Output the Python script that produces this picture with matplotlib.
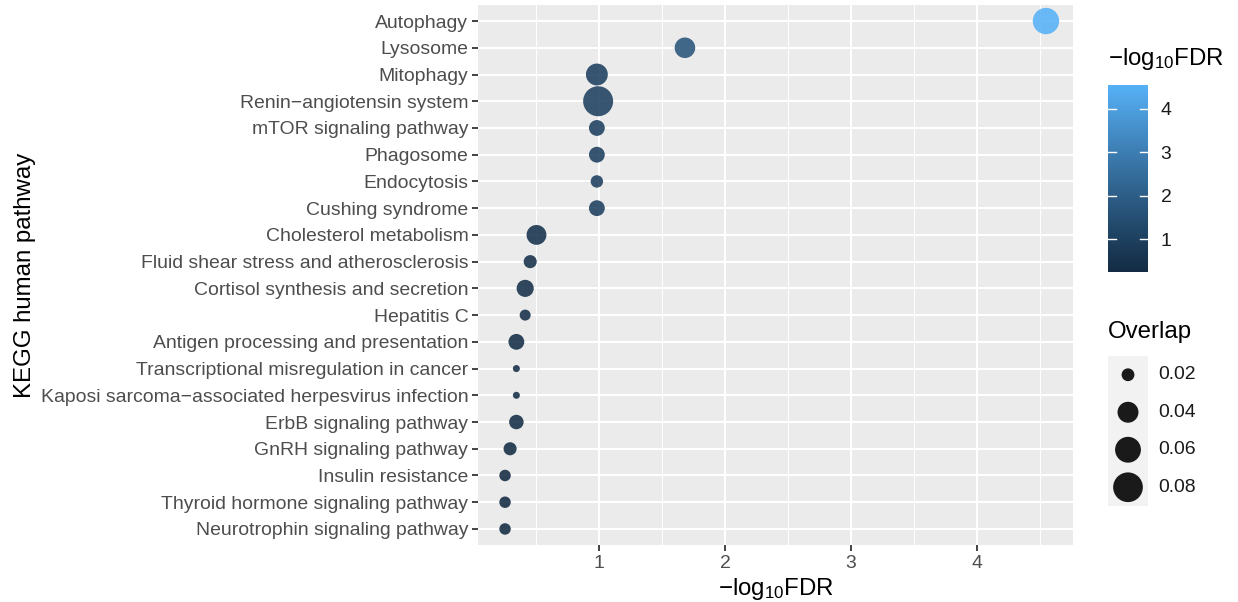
import numpy as np
import matplotlib
matplotlib.use("Agg")
import matplotlib.pyplot as plt
from matplotlib.colors import ListedColormap, Normalize

# ---------------- data ----------------
pathways = [
    "Autophagy", "Lysosome", "Mitophagy", "Renin\u2212angiotensin system",
    "mTOR signaling pathway", "Phagosome", "Endocytosis", "Cushing syndrome",
    "Cholesterol metabolism", "Fluid shear stress and atherosclerosis",
    "Cortisol synthesis and secretion", "Hepatitis C",
    "Antigen processing and presentation",
    "Transcriptional misregulation in cancer",
    "Kaposi sarcoma\u2212associated herpesvirus infection",
    "ErbB signaling pathway", "GnRH signaling pathway", "Insulin resistance",
    "Thyroid hormone signaling pathway", "Neurotrophin signaling pathway",
]
neg_log10_fdr = [4.55, 1.68, 0.98, 0.99, 0.98, 0.98, 0.98, 0.98, 0.50, 0.45,
                 0.41, 0.41, 0.34, 0.34, 0.34, 0.34, 0.29, 0.25, 0.25, 0.25]
overlap = [0.0625, 0.0387, 0.0434, 0.0817, 0.0255, 0.0255, 0.0195, 0.0255,
           0.0364, 0.0204, 0.0286, 0.0178, 0.0255, 0.0158, 0.0158, 0.0228,
           0.0204, 0.0183, 0.0183, 0.0183]
x_ticks = [1, 2, 3, 4]
cbar_ticks = [1, 2, 3, 4]
size_breaks = [0.02, 0.04, 0.06, 0.08]

# ---------------- style helpers ----------------
FONT = ["Liberation Sans", "DejaVu Sans"]
plt.rcParams["font.family"] = FONT
plt.rcParams["mathtext.fontset"] = "custom"
plt.rcParams["mathtext.rm"] = "Liberation Sans"
plt.rcParams["mathtext.default"] = "regular"

DPI = 100
W, H = 1238, 602
TICK_FS = 13.92
TITLE_FS = 17.3


def hex_to_rgb(h):
    h = h.lstrip("#")
    return np.array([int(h[i:i + 2], 16) / 255 for i in (0, 2, 4)])


def rgb_to_lab(rgb):
    c = np.where(rgb > 0.04045, ((rgb + 0.055) / 1.055) ** 2.4, rgb / 12.92)
    M = np.array([[0.4124, 0.3576, 0.1805],
                  [0.2126, 0.7152, 0.0722],
                  [0.0193, 0.1192, 0.9505]])
    xyz = M @ c / np.array([0.95047, 1.0, 1.08883])
    f = np.where(xyz > 0.008856, np.cbrt(xyz), 7.787 * xyz + 16 / 116)
    return np.array([116 * f[1] - 16, 500 * (f[0] - f[1]), 200 * (f[1] - f[2])])


def lab_to_rgb(lab):
    L, a, b = lab
    fy = (L + 16) / 116
    fx = fy + a / 500
    fz = fy - b / 200
    f = np.array([fx, fy, fz])
    xyz = np.where(f ** 3 > 0.008856, f ** 3, (f - 16 / 116) / 7.787)
    xyz = xyz * np.array([0.95047, 1.0, 1.08883])
    Minv = np.array([[3.2406, -1.5372, -0.4986],
                     [-0.9689, 1.8758, 0.0415],
                     [0.0557, -0.2040, 1.0570]])
    c = Minv @ xyz
    c = np.where(c > 0.0031308, 1.055 * np.clip(c, 0, None) ** (1 / 2.4) - 0.055, 12.92 * c)
    return np.clip(c, 0, 1)


lo, hi = rgb_to_lab(hex_to_rgb("#132B43")), rgb_to_lab(hex_to_rgb("#56B1F7"))
cmap = ListedColormap([lab_to_rgb(lo + (hi - lo) * t) for t in np.linspace(0, 1, 256)])
norm = Normalize(vmin=min(neg_log10_fdr), vmax=max(neg_log10_fdr))

ov_min, ov_max = min(overlap), max(overlap)


def size_scale(v):
    """area-style size scale: diameter in px -> marker area in pt^2"""
    t = np.clip((np.asarray(v) - ov_min) / (ov_max - ov_min), 0, None)
    d_px = 7.0 + 23.0 * np.sqrt(t)
    d_pt = d_px * 72 / DPI
    return d_pt ** 2


# ---------------- figure ----------------
fig = plt.figure(figsize=(W / DPI, H / DPI), dpi=DPI)
fig.patch.set_facecolor("white")

pl, pr, pt_, pb = 478, 1073, 5, 545
ax = fig.add_axes([pl / W, 1 - pb / H, (pr - pl) / W, (pb - pt_) / H])
ax.set_facecolor("#EBEBEB")
for s in ax.spines.values():
    s.set_visible(False)

n = len(pathways)
ypos = np.arange(n)
ax.set_ylim(n - 1 + 0.6, -0.6)
xr = max(neg_log10_fdr) - min(neg_log10_fdr)
ax.set_xlim(min(neg_log10_fdr) - 0.05 * xr, max(neg_log10_fdr) + 0.05 * xr)

# grid
for xm in np.arange(0.5, 5.0, 1.0):
    ax.axvline(xm, color="white", lw=0.7, zorder=0)
for xv in x_ticks:
    ax.axvline(xv, color="white", lw=1.45, zorder=0)
for yv in ypos:
    ax.axhline(yv, color="white", lw=1.45, zorder=0)

ax.scatter(neg_log10_fdr, ypos, s=size_scale(overlap), c=neg_log10_fdr,
           cmap=cmap, norm=norm, linewidths=0, alpha=0.88, zorder=3)

ax.set_xticks(x_ticks)
ax.set_xticklabels([str(v) for v in x_ticks])
ax.set_yticks(ypos)
ax.set_yticklabels(pathways)
ax.tick_params(axis="both", length=4, width=1.3, color="#333333",
               labelcolor="#4D4D4D", labelsize=TICK_FS, pad=3)

ax.set_xlabel("\u2212log$_{10}$FDR", fontsize=TITLE_FS, color="black")
ax.set_ylabel("KEGG human pathway", fontsize=TITLE_FS, color="black")
ax.xaxis.set_label_coords(0.5, -(576 - pb) / (pb - pt_))
ax.yaxis.set_label_coords((36 - pl) / (pr - pl), 0.5)

# ---------------- colour bar legend ----------------
cx0, cx1, cy0, cy1 = 1108, 1148, 85, 272
cax = fig.add_axes([cx0 / W, 1 - cy1 / H, (cx1 - cx0) / W, (cy1 - cy0) / H])
cb = fig.colorbar(plt.cm.ScalarMappable(norm=norm, cmap=cmap), cax=cax)
cb.outline.set_visible(False)
cb.set_ticks(cbar_ticks)
cb.set_ticklabels([str(v) for v in cbar_ticks])
cax.tick_params(length=0, labelsize=TICK_FS, labelcolor="#1A1A1A", pad=9)
for tv in cbar_ticks:
    cax.plot([0, 0.2], [tv, tv], color="white", lw=1, transform=cax.get_yaxis_transform())
    cax.plot([0.8, 1.0], [tv, tv], color="white", lw=1, transform=cax.get_yaxis_transform())
fig.text(cx0 / W, 1 - 59 / H, "\u2212log$_{10}$FDR", fontsize=TITLE_FS, color="black",
         ha="left", va="center")

# ---------------- size legend ----------------
lx0, lx1, ly0, ly1 = 1108, 1148, 356, 506
lax = fig.add_axes([lx0 / W, 1 - ly1 / H, (lx1 - lx0) / W, (ly1 - ly0) / H])
lax.set_facecolor("#F2F2F2")
for s in lax.spines.values():
    s.set_visible(False)
lax.set_xticks([])
lax.set_yticks([])
nk = len(size_breaks)
lax.set_xlim(0, 1)
lax.set_ylim(nk, 0)
ky = np.arange(nk) + 0.5
lax.scatter([0.5] * nk, ky, s=size_scale(size_breaks), color="#1A1A1A", linewidths=0)
for yk, lab in zip(ky, size_breaks):
    lax.text(1.25, yk, f"{lab:.2f}", transform=lax.get_yaxis_transform(),
             fontsize=TICK_FS, color="#1A1A1A", ha="left", va="center")
fig.text(lx0 / W, 1 - 332 / H, "Overlap", fontsize=TITLE_FS, color="black",
         ha="left", va="center")

fig.savefig("out.png", dpi=DPI)
